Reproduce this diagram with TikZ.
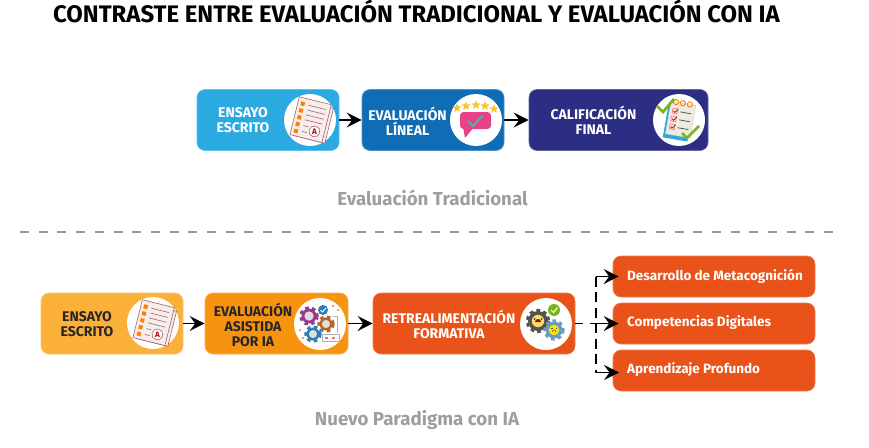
\documentclass[tikz,border=0pt]{standalone}
\usepackage{fontspec}
\setmainfont{Fira Sans}
\usetikzlibrary{arrows.meta,shapes.geometric}

\definecolor{tradsky}{HTML}{2BA9E1}
\definecolor{tradblue}{HTML}{0F6DB5}
\definecolor{tradnavy}{HTML}{2C2E83}
\definecolor{newamber}{HTML}{FBB03A}
\definecolor{neworange}{HTML}{F7930E}
\definecolor{newred}{HTML}{E95219}
\definecolor{sheetline}{HTML}{A8606A}
\definecolor{sheetfill}{HTML}{F6EEEA}
\definecolor{bubblepink}{HTML}{E9408A}
\definecolor{ticktold}{HTML}{4FB3A5}
\definecolor{starfill}{HTML}{F8C52B}
\definecolor{tickgreen}{HTML}{7AB51D}
\definecolor{padfill}{HTML}{EFEBE0}
\definecolor{gearplum}{HTML}{96398F}
\definecolor{gearrust}{HTML}{B5652A}
\definecolor{gearblue}{HTML}{2D7DB8}
\definecolor{geardark}{HTML}{55514F}
\definecolor{gearsteel}{HTML}{6C9BC0}

\tikzset{
  box/.style={rounded corners=8pt,minimum height=61pt,inner sep=0pt,draw=#1!75!white,line width=0.6pt,fill=#1},
  smallbox/.style={box=newred,minimum width=202pt,minimum height=41pt},
  boxtext/.style={font=\bfseries\fontsize{14}{15}\selectfont,align=center,white},
  darktext/.style={boxtext,black!85},
  itemtext/.style={font=\bfseries\fontsize{13.5}{15}\selectfont,white,anchor=west,inner sep=0pt},
  caption/.style={font=\bfseries\fontsize{18.7}{21}\selectfont,black!38},
  iconcircle/.style={circle,fill=white,minimum size=52pt,inner sep=0pt},
  flow/.style={black,line width=1.1pt,-{Stealth[length=15pt,width=15pt,inset=5.5pt]}},
  branchin/.style={flow,shorten >=-6pt},
  trunk/.style={black,line width=1.1pt,dash pattern=on 10pt off 5.5pt},
}

% Stack of written sheets
\newcommand{\essayicon}[2]{
  \begin{scope}[shift={(#1,#2)},rotate=-14,line width=0.6pt]
    \filldraw[fill=sheetfill,draw=sheetline] (-12,-17) rectangle (20,19);
    \filldraw[fill=sheetfill,draw=sheetline] (-16,-20) rectangle (17,19);
    \foreach \y in {-14,-7,0,7,14} {
      \fill[orange] (-13,\y-2) rectangle (-9,\y+2);
    }
    \foreach \y in {-14,-9,-4,1} {
      \draw[sheetline] (-5,\y) -- (13,\y);
    }
    \draw[sheetline] (-5,7) -- (0,7);
    \draw[sheetline] (-5,13) -- (0,13);
    \draw[sheetline,fill=white] (7,10) circle (5.5);
    \node[font=\bfseries\fontsize{8}{8}\selectfont,text=red!70!black,inner sep=0pt] at (7,10) {A};
  \end{scope}
}

% Gear with a coloured centre
\newcommand{\gearicon}[5]{
  \fill[#4] (#1,#2) circle (#3);
  \draw[#4,line width=2.8pt,dash pattern=on 3.6pt off 3.4pt] (#1,#2) circle (#3+0.8);
  \fill[#5] (#1,#2) circle (#3*0.62);
}

\begin{document}
\begin{tikzpicture}[x=1pt,y=-1pt]
\useasboundingbox (0,0) rectangle (869,447);

% Title
\node[font=\bfseries\fontsize{23.9}{25}\selectfont,inner sep=0pt] (title) at (416.5,11) {CONTRASTE ENTRE EVALUACIÓN TRADICIONAL Y EVALUACIÓN CON IA};

% Traditional row
\node[box=tradsky,minimum width=142pt] (essaytrad) at (268,120) {};
\node[box=tradblue,minimum width=142pt] (linear) at (433,120) {};
\node[box=tradnavy,minimum width=179pt] (grade) at (618.5,120) {};
\node[boxtext] (essaytradtext) at (243,120.5) {ENSAYO\\ESCRITO};
\node[boxtext] (lineartext) at (407.5,121) {EVALUACIÓN\\LÍNEAL};
\node[boxtext] (gradetext) at (593.5,120.5) {CALIFICACIÓN\\FINAL};
\node[iconcircle] (essaytradicon) at (310,120) {};
\node[iconcircle] (linearicon) at (476,120) {};
\node[iconcircle] (gradeicon) at (679,120) {};

\draw[flow] (essaytrad) -- (linear);
\draw[flow] (linear) -- (grade);

\node[caption] (tradcaption) at (432.5,198) {Evaluación Tradicional};

% Separator
\coordinate (sepleft) at (20,232);
\coordinate (sepright) at (838,232);
\draw[black!40,line width=1.2pt,dash pattern=on 9pt off 9.7pt] (sepleft) -- (sepright);

% New paradigm row
\node[box=newamber,minimum width=142pt] (essaynew) at (112,323.5) {};
\node[box=neworange,minimum width=143pt] (assisted) at (276.5,323.5) {};
\node[box=newred,minimum width=202pt] (formative) at (474,323.5) {};
\node[darktext] (essaynewtext) at (87,324) {ENSAYO\\ESCRITO};
\node[darktext] (assistedtext) at (253,325) {EVALUACIÓN\\ASISTIDA\\POR IA};
\node[boxtext] (formativetext) at (449,324) {RETREALIMENTACIÓN\\FORMATIVA};
\node[iconcircle] (essaynewicon) at (153,323) {};
\node[iconcircle] (assistedicon) at (320,324) {};
\node[iconcircle] (formativeicon) at (546,324) {};

\draw[flow] (essaynew) -- (assisted);
\draw[flow] (assisted) -- (formative);

% Outcomes
\node[smallbox] (metacog) at (714,276.5) {};
\node[smallbox] (digital) at (714,323.5) {};
\node[smallbox] (deep) at (714,370.5) {};
\node[itemtext] (metacogtext) at (627,276) {Desarrollo de Metacognición};
\node[itemtext] (digitaltext) at (627,323) {Competencias Digitales};
\node[itemtext] (deeptext) at (627,370) {Aprendizaje Profundo};

\coordinate (split) at (596,323.5);
\coordinate (splittop) at (596,276.5);
\coordinate (splitlow) at (596,372.5);
\coordinate (deepin) at (613,372.5);
\draw[black,line width=1.1pt,dash pattern=on 8pt off 7pt] (formative) -- (split);
\draw[trunk] (splittop) -- (splitlow);
\draw[branchin] (splittop) -- (metacog);
\draw[branchin] (split) -- (digital);
\draw[branchin] (splitlow) -- (deepin);

\node[caption] (newcaption) at (417,420) {Nuevo Paradigma con IA};

% Icons
\essayicon{310}{120}
\essayicon{153}{323}

% Rating bubble
\foreach \x/\y in {457/108,466/106,476/105,485/106,494/109} {
  \node[star,star points=5,star point ratio=2.3,fill=starfill,inner sep=0pt,minimum size=9.5pt] at (\x,\y) {};
}
\fill[rounded corners=3.5pt,bubblepink] (460,112) rectangle (491,129);
\fill[bubblepink] (463,127) -- (465,138) -- (474,127) -- cycle;
\draw[ticktold,line width=2pt] (468,121) -- (473,126) -- (483,115);

% Checklist
\begin{scope}[shift={(680,120)},rotate=-10]
  \fill[tradsky] (-14,-14) rectangle (11,20);
  \filldraw[fill=padfill,draw=gray!40,line width=0.4pt] (-12,-17) rectangle (13,16);
  \foreach \y in {-8,0,8} {
    \draw[red!55,line width=0.6pt] (-9,\y-2.5) rectangle (-4,\y+2.5);
    \draw[black!65,line width=0.8pt] (-1,\y) -- (10,\y);
    \draw[red!70!black,line width=0.7pt] (-8,\y) -- (-6.5,\y+1.5) -- (-3.5,\y-2.5);
  }
  \foreach \x in {-7,0,7} {
    \draw[orange,line width=0.9pt] (\x,-17) circle (2.6);
  }
\end{scope}
\draw[tickgreen,line width=2.8pt] (657,106) -- (663,112) -- (674,99);
\draw[tickgreen,line width=2.8pt] (682,133) -- (687,138) -- (699,126);

% Assisted gears
\gearicon{309}{316}{7.5}{gearplum}{gray!25}
\gearicon{326}{324}{6.5}{gearrust}{gray!25}
\gearicon{313}{334}{6.5}{gearblue}{gray!25}
\fill[gearblue] (323,310) circle (5);
\draw[white,line width=0.9pt] (320.5,310) -- (322.5,312) -- (326,308);
\draw[gray!60,line width=0.6pt] (322,334) rectangle (339,341);
\fill[red!60] (325,336.5) rectangle (328,338.5);
\fill[red!60] (332,336.5) rectangle (335,338.5);
\draw[gray!60,line width=0.5pt] (333,316) -- (337,316) -- (337,333);
\fill[orange] (333,306) circle (1.1);
\fill[orange] (338,310) circle (1.1);
\fill[orange] (300,330) circle (1.1);
\fill[orange] (303,338) circle (1.1);

% Formative gears
\gearicon{538}{321}{10}{geardark}{brown!35!yellow!65!white}
\fill[black!75] (534.5,319) circle (1);
\fill[black!75] (541.5,319) circle (1);
\fill[red!65!black] (535,322) arc[start angle=180,end angle=360,radius=3];
\gearicon{554}{330}{8.5}{gearsteel}{yellow!85!orange}
\draw[black!70,line width=0.5pt] (551,328.5) -- (552.5,328.5);
\draw[black!70,line width=0.5pt] (555.5,328.5) -- (557,328.5);
\draw[black!70,line width=0.5pt] (552,332) arc[start angle=180,end angle=360,radius=2];
\fill[tickgreen] (554,310) circle (6);
\draw[white,line width=1pt] (551,310) -- (553.5,312.5) -- (557.5,307.5);
\end{tikzpicture}
\end{document}
